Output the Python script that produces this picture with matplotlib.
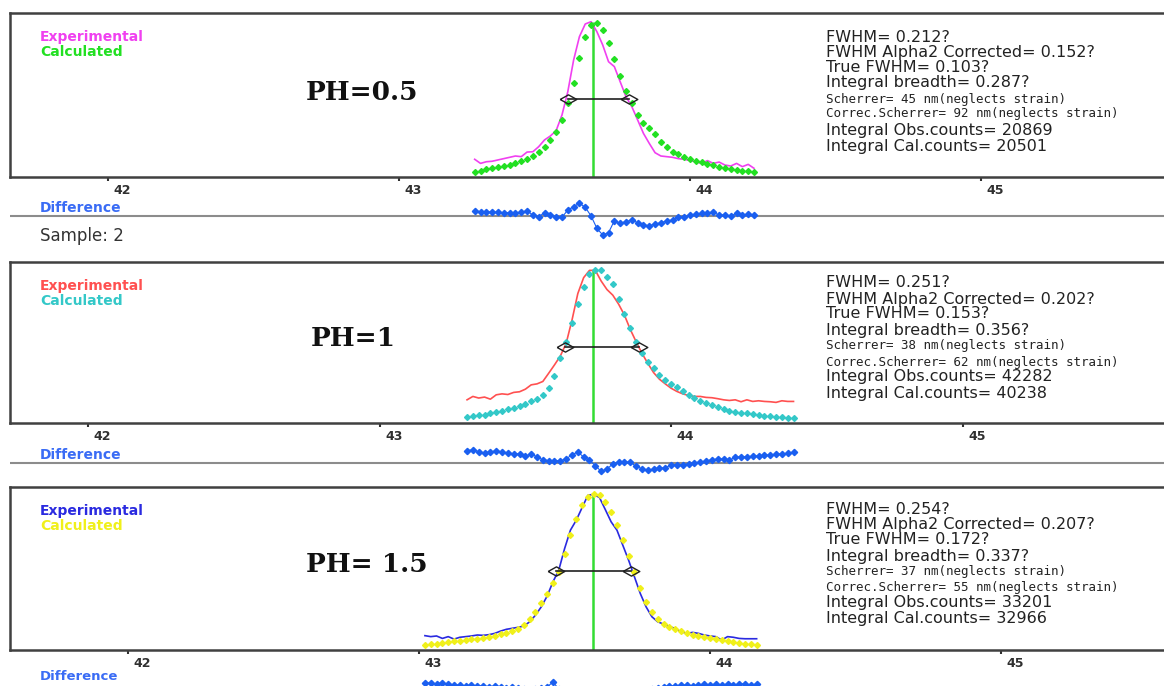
import matplotlib.pyplot as plt
from matplotlib.transforms import ScaledTranslation

W_PX, H_PX, DPI = 1164, 686, 100

# ---- data: 2theta (deg), intensity (% of panel height), difference (px) ----
theta_05 = [43.26, 43.28, 43.30, 43.32, 43.34, 43.36, 43.38, 43.40, 43.42, 43.44,
            43.46, 43.48, 43.50, 43.52, 43.54, 43.56, 43.58, 43.60, 43.62, 43.64,
            43.66, 43.68, 43.70, 43.72, 43.74, 43.76, 43.78, 43.80, 43.82, 43.84,
            43.86, 43.88, 43.90, 43.92, 43.94, 43.96, 43.98, 44.00, 44.02, 44.04,
            44.06, 44.08, 44.10, 44.12, 44.14, 44.16, 44.18, 44.20, 44.22]
obs_05 = [10.8, 8.3, 9.3, 9.6, 10.4, 11.2, 12.0, 12.8, 12.4, 15.2,
          15.4, 18.5, 22.6, 25.0, 28.3, 37.8, 52.0, 71.3, 85.6, 93.3,
          94.7, 88.6, 80.5, 70.3, 67.3, 58.1, 49.0, 42.9, 34.8, 26.6,
          20.5, 14.8, 12.8, 12.4, 12.0, 11.2, 10.8, 10.0, 9.3, 8.3,
          10.0, 8.3, 9.1, 7.3, 6.7, 8.3, 6.3, 7.7, 5.3]
calc_05 = [3.3, 3.9, 4.7, 5.3, 6.3, 6.9, 7.5, 8.3, 9.6, 10.8,
           12.8, 15.4, 18.5, 22.6, 27.6, 34.8, 44.9, 57.1, 72.4, 85.6,
           92.7, 94.1, 89.6, 81.5, 71.7, 61.6, 52.6, 44.9, 37.8, 33.1,
           29.7, 26.2, 21.5, 18.5, 15.4, 13.8, 12.4, 11.2, 10.0, 8.9,
           7.9, 7.1, 6.3, 5.7, 5.1, 4.5, 3.9, 3.5, 2.8]
diff_05 = [5.3, 4.3, 4.3, 3.7, 3.7, 3.3, 3.3, 2.7, 4.0, 5.0,
           1.0, -0.7, 3.3, 1.0, -0.7, -1.3, 6.0, 9.3, 12.7, 8.7,
           0.0, -12.3, -19.0, -16.7, -4.7, -7.3, -5.7, -4.0, -6.7, -9.0,
           -9.7, -8.0, -6.7, -5.0, -4.0, -0.7, -1.3, 1.0, 1.7, 2.7,
           3.3, 3.7, 1.0, 1.0, 0.0, 2.7, 0.7, 2.0, 1.0]

theta_1 = [43.30, 43.32, 43.34, 43.36, 43.38, 43.40, 43.42, 43.44, 43.46, 43.48,
           43.50, 43.52, 43.54, 43.56, 43.58, 43.60, 43.62, 43.64, 43.66, 43.68,
           43.70, 43.72, 43.74, 43.76, 43.78, 43.80, 43.82, 43.84, 43.86, 43.88,
           43.90, 43.92, 43.94, 43.96, 43.98, 44.00, 44.02, 44.04, 44.06, 44.08,
           44.10, 44.12, 44.14, 44.16, 44.18, 44.20, 44.22, 44.24, 44.26, 44.28,
           44.30, 44.32, 44.34, 44.36, 44.38, 44.40, 44.42]
obs_1 = [14.4, 16.5, 15.5, 16.1, 14.8, 17.5, 18.1, 17.7, 19.0, 19.4,
         21.0, 23.7, 24.3, 25.8, 30.9, 36.1, 41.6, 49.5, 63.9, 80.4,
         90.3, 94.8, 94.8, 88.2, 82.9, 79.4, 73.8, 67.0, 58.1, 50.5,
         43.3, 37.1, 31.3, 27.2, 24.3, 21.6, 19.6, 18.1, 17.1, 16.5,
         16.5, 15.9, 15.7, 15.1, 14.4, 14.0, 14.4, 13.2, 14.4, 13.4,
         13.8, 13.4, 13.2, 12.8, 13.8, 13.4, 13.4]
calc_1 = [3.5, 4.1, 4.7, 5.2, 6.0, 6.6, 7.4, 8.5, 9.5, 10.5,
          12.0, 13.4, 15.1, 17.5, 21.6, 28.9, 40.2, 50.5, 61.9, 74.2,
          84.5, 92.8, 95.3, 94.8, 90.7, 86.6, 77.3, 68.0, 58.8, 50.5,
          43.7, 38.1, 34.0, 29.9, 26.8, 24.3, 22.1, 19.8, 17.5, 15.5,
          13.6, 12.2, 10.9, 9.7, 8.7, 7.6, 6.8, 6.4, 6.0, 5.6,
          4.9, 4.5, 4.1, 3.9, 3.5, 3.3, 3.1]
diff_1 = [12.3, 13.3, 11.3, 10.0, 11.0, 12.3, 11.0, 10.0, 9.3, 9.0,
          6.7, 9.3, 6.0, 3.3, 2.3, 2.3, 2.3, 4.0, 8.3, 11.0,
          6.0, 2.7, -2.7, -8.3, -6.0, -1.0, 1.0, 1.0, 0.7, -3.3,
          -5.7, -7.3, -6.0, -5.0, -5.0, -1.7, -1.7, -1.7, -1.0, 0.0,
          1.0, 2.0, 3.3, 4.0, 4.0, 2.7, 6.0, 6.0, 6.3, 6.7,
          7.0, 7.7, 8.0, 8.7, 9.0, 9.7, 10.7]

theta_15 = [43.02, 43.04, 43.06, 43.08, 43.10, 43.12, 43.14, 43.16, 43.18, 43.20,
            43.22, 43.24, 43.26, 43.28, 43.30, 43.32, 43.34, 43.36, 43.38, 43.40,
            43.42, 43.44, 43.46, 43.48, 43.50, 43.52, 43.54, 43.56, 43.58, 43.60,
            43.62, 43.64, 43.66, 43.68, 43.70, 43.72, 43.74, 43.76, 43.78, 43.80,
            43.82, 43.84, 43.86, 43.88, 43.90, 43.92, 43.94, 43.96, 43.98, 44.00,
            44.02, 44.04, 44.06, 44.08, 44.10, 44.12, 44.14, 44.16]
obs_15 = [8.8, 8.2, 8.6, 7.1, 8.2, 6.7, 7.8, 8.2, 8.6, 9.2,
          9.0, 9.4, 10.2, 11.6, 12.7, 13.3, 13.9, 14.7, 17.3, 21.4,
          26.5, 33.1, 41.8, 49.0, 62.2, 73.5, 79.6, 87.3, 94.9, 95.5,
          93.5, 86.1, 78.6, 73.5, 64.3, 55.1, 44.9, 34.7, 26.5, 20.4,
          17.3, 15.9, 14.3, 13.3, 11.2, 10.2, 10.8, 10.2, 9.2, 8.6,
          8.2, 6.1, 8.2, 7.8, 7.1, 6.9, 6.9, 6.9]
calc_15 = [3.1, 3.5, 3.9, 4.5, 4.7, 5.3, 5.5, 5.9, 6.5, 6.9,
           7.6, 8.0, 8.8, 9.6, 10.4, 11.4, 13.1, 15.3, 18.8, 23.5,
           28.6, 34.3, 40.8, 48.0, 59.2, 70.4, 80.6, 88.8, 93.9, 95.5,
           94.9, 90.8, 84.7, 76.5, 67.3, 57.6, 48.0, 37.8, 29.6, 23.5,
           18.8, 15.9, 14.3, 13.1, 11.6, 10.4, 9.4, 8.6, 7.8, 7.1,
           6.5, 5.9, 5.3, 4.9, 4.3, 3.9, 3.5, 3.1]
diff_15 = [7, 7, 6, 7, 6, 5, 5, 4, 5, 4,
           4, 3, 4, 3, 2, 3, 2, 1, 0, 1,
           2, 3, 8, 1, -2, -5, -6, -3, 0, -4,
           -8, -6, -2, -4, -5, -3, -2, -1, 0, 1,
           2, 3, 4, 4, 5, 5, 4, 5, 6, 5,
           6, 5, 6, 5, 6, 6, 5, 6]

peak_pos = [43.667, 43.731, 43.599]
peak_top = [94.7, 94.8, 95.5]
fwhm_left = [43.582, 43.636, 43.470]
fwhm_right = [43.791, 43.891, 43.727]
half_max = [47.6, 47.4, 48.4]
ph_labels = ["PH=0.5", "PH=1", "PH= 1.5"]
xticks = [42, 43, 44, 45]

info_05 = ["FWHM= 0.212?", "FWHM Alpha2 Corrected= 0.152?", "True FWHM= 0.103?",
           "Integral breadth= 0.287?", "Scherrer= 45 nm(neglects strain)",
           "Correc.Scherrer= 92 nm(neglects strain)", "Integral Obs.counts= 20869",
           "Integral Cal.counts= 20501"]
info_1 = ["FWHM= 0.251?", "FWHM Alpha2 Corrected= 0.202?", "True FWHM= 0.153?",
          "Integral breadth= 0.356?", "Scherrer= 38 nm(neglects strain)",
          "Correc.Scherrer= 62 nm(neglects strain)", "Integral Obs.counts= 42282",
          "Integral Cal.counts= 40238"]
info_15 = ["FWHM= 0.254?", "FWHM Alpha2 Corrected= 0.207?", "True FWHM= 0.172?",
           "Integral breadth= 0.337?", "Scherrer= 37 nm(neglects strain)",
           "Correc.Scherrer= 55 nm(neglects strain)", "Integral Obs.counts= 33201",
           "Integral Cal.counts= 32966"]

obs_colors = ["#f040f0", "#ff5050", "#2a2ae0"]
calc_colors = ["#22e022", "#33c8c8", "#f0f01a"]
diff_color = "#1a5ff0"

# ---- layout (pixels) ----
box_px = [(13, 177), (262, 423), (487, 650)]
xlims = [(41.663, 45.629), (41.732, 45.691), (41.594, 45.560)]
diff_line_px = [216, 463, 690]
diff_label_px = [208, 455, 677]
ph_xy = [(362, 93), (353, 338), (367, 565)]
info_y = [[37, 53, 68, 83, 99, 114, 130, 146],
          [283, 299, 314, 330, 346, 362, 377, 394],
          [509, 525, 540, 556, 571, 587, 602, 618]]


def fx(x):
    return x / W_PX


def fy(y):
    return 1 - y / H_PX


fig = plt.figure(figsize=(W_PX / DPI, H_PX / DPI), dpi=DPI)
fig.patch.set_facecolor("white")

series = [(theta_05, obs_05, calc_05, diff_05, info_05),
          (theta_1, obs_1, calc_1, diff_1, info_1),
          (theta_15, obs_15, calc_15, diff_15, info_15)]

diamond = [(-1.8, 0), (0, 1), (1.8, 0), (0, -1), (-1.8, 0)]

for i, (theta, obs, calc, diff, info) in enumerate(series):
    top, bottom = box_px[i]
    ax = fig.add_axes([fx(10), fy(bottom), (W_PX - 10) / W_PX, (bottom - top) / H_PX])
    ax.set_xlim(*xlims[i])
    ax.set_ylim(0, 100)

    ax.vlines(peak_pos[i], 0, peak_top[i], color="#33dd33", lw=1.8, zorder=2)
    ax.plot(theta, obs, color=obs_colors[i], lw=1.2, zorder=3)
    ax.plot(theta, calc, ls="none", marker="D", ms=3.0, color=calc_colors[i], zorder=4)
    ax.plot([fwhm_left[i], fwhm_right[i]], [half_max[i], half_max[i]],
            color="#202020", lw=1.2, marker=diamond, ms=12, mfc="none",
            mec="#202020", mew=1.0, zorder=5)

    for side in ["top", "bottom", "left"]:
        ax.spines[side].set_color("#404040")
        ax.spines[side].set_linewidth(1.8)
    ax.spines["right"].set_visible(False)
    ax.set_yticks([])
    ax.set_xticks(xticks)
    ax.set_xticklabels([str(t) for t in xticks], fontsize=9, fontweight="bold", color="#303030")
    ax.tick_params(axis="x", direction="out", length=3, width=1.5, pad=2, colors="#303030")
    offset = ScaledTranslation(4 / 72, 0, fig.dpi_scale_trans)
    for lbl in ax.get_xticklabels():
        lbl.set_horizontalalignment("left")
        lbl.set_transform(lbl.get_transform() + offset)

    # difference strip
    line = diff_line_px[i]
    ax_d = fig.add_axes([fx(10), fy(line + 25), (W_PX - 10) / W_PX, 50 / H_PX])
    ax_d.set_xlim(*xlims[i])
    ax_d.set_ylim(-25, 25)
    ax_d.axis("off")
    ax_d.axhline(0, color="#8c8c8c", lw=1.5)
    ax_d.plot(theta, diff, color=diff_color, lw=0.8, marker="D", ms=3.2)

    # legend-like labels
    fig.text(fx(40), fy(top + 24), "Experimental", color=obs_colors[i],
             fontsize=10, fontweight="bold", va="center")
    fig.text(fx(40), fy(top + 39), "Calculated", color=calc_colors[i],
             fontsize=10, fontweight="bold", va="center")
    fig.text(fx(40), fy(diff_label_px[i]), "Difference", color="#3a6cf5",
             fontsize=10 if i < 2 else 9.5, fontweight="bold", va="center")

    fig.text(fx(ph_xy[i][0]), fy(ph_xy[i][1]), ph_labels[i], family="DejaVu Serif",
             fontweight="bold", fontsize=19, ha="center", va="center", color="#111111")

    for j, s in enumerate(info):
        small = s.startswith("Scherrer") or s.startswith("Correc")
        fig.text(fx(826), fy(info_y[i][j]), s, color="#222222", va="center",
                 family="DejaVu Sans Mono" if small else "DejaVu Sans",
                 fontsize=9 if small else 11.5)

fig.text(fx(40), fy(236), "Sample: 2", color="#333333", fontsize=12, va="center")

fig.savefig("out.png", dpi=DPI, facecolor="white")
